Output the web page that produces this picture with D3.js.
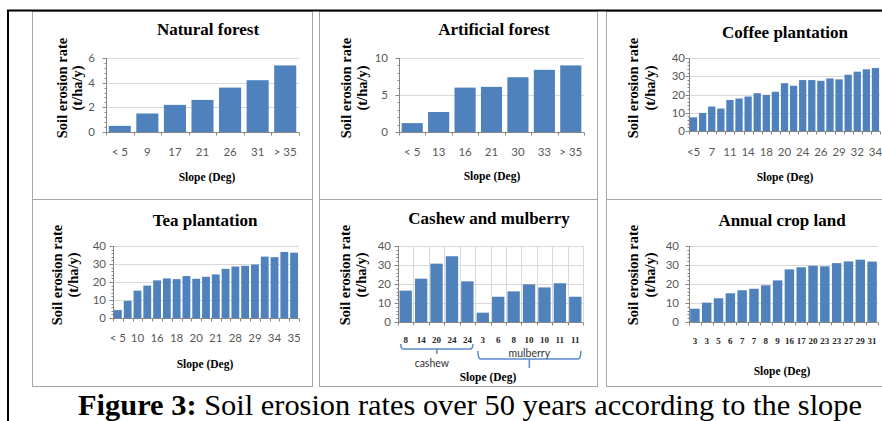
<!DOCTYPE html>
<html>
<head>
<meta charset="utf-8">
<script src="https://cdn.jsdelivr.net/npm/d3@7/dist/d3.min.js"></script>
<style>
  body { margin: 0; background: #fff; }
</style>
</head>
<body>
<svg id="fig" width="882" height="421"></svg>
<script>
// ---- data ----
const naturalSlopes = ["< 5", "9", "17", "21", "26", "31", "> 35"];
const naturalRates = [0.5, 1.5, 2.2, 2.6, 3.6, 4.2, 5.4];

const artificialSlopes = ["< 5", "13", "16", "21", "30", "33", "> 35"];
const artificialRates = [1.2, 2.7, 6.0, 6.1, 7.4, 8.4, 9.0];

// every second label is hidden in the picture, those in between are guesses
const coffeeSlopes = ["<5", "5", "7", "9", "11", "13", "14", "16", "18", "19", "20",
  "22", "24", "25", "26", "28", "29", "31", "32", "33", "34"];
const coffeeRates = [7.5, 9.9, 13.4, 12.3, 17.0, 17.8, 18.9, 20.7, 19.8, 21.5, 26.2,
  24.8, 27.9, 27.9, 27.5, 28.8, 28.3, 30.8, 32.5, 33.8, 34.5];

const teaSlopes = ["< 5", "7", "10", "13", "16", "17", "18", "19", "20", "20", "21",
  "25", "28", "28", "29", "31", "34", "35", "35"];
const teaRates = [4.4, 9.5, 15.2, 18.0, 20.9, 22.0, 21.6, 23.3, 21.8, 22.9, 24.2,
  27.3, 28.6, 29.0, 29.7, 34.1, 33.8, 36.7, 36.3];

const cashewSlopes = ["8", "14", "20", "24", "24"];
const cashewRates = [16.5, 22.8, 30.7, 34.6, 21.4];
const mulberrySlopes = ["3", "6", "8", "10", "10", "11", "11"];
const mulberryRates = [4.9, 13.3, 16.1, 19.8, 18.2, 20.4, 13.3];

const annualSlopes = ["3", "3", "5", "6", "7", "7", "8", "9", "16", "17", "20", "23",
  "23", "27", "29", "31"];
const annualRates = [7.0, 10.2, 12.5, 15.1, 16.7, 17.5, 19.3, 21.9, 27.7, 28.8, 29.6,
  29.3, 31.0, 31.9, 32.8, 31.8];

const yTicksNatural = [0, 2, 4, 6];
const yTicksArtificial = [0, 5, 10];
const yTicks40 = [0, 10, 20, 30, 40];

const panelTitles = ["Natural forest", "Artificial forest", "Coffee plantation",
  "Tea plantation", "Cashew and mulberry", "Annual crop land"];
const yTitle = ["Soil erosion rate", "(t/ha/y)"];
const xTitle = "Slope (Deg)";
const caption = ["Figure 3:", " Soil erosion rates over 50 years according to the slope"];

// ---- style ----
const barColor = "#4f81bd";
const serif = "'Liberation Serif', 'Times New Roman', serif";
const sans = "Lato, 'Open Sans', sans-serif";
const tickGray = "#595959";

const svg = d3.select("#fig");

// panel layout: box = panel frame, plot = [left, top, right, bottom]
const panels = [
  { slopes: naturalSlopes, rates: naturalRates, ticks: yTicksNatural,
    box: [32, 11, 312, 199], plot: [106, 58, 299, 132],
    titleXY: [208, 35], ylabX: [62, 77], ylabY: 88, tickX: 95, tickY: 156, xlabXY: [207, 181], every: 1, serifTicks: false },
  { slopes: artificialSlopes, rates: artificialRates, ticks: yTicksArtificial,
    box: [319, 11, 597, 199], plot: [399, 58, 584, 132],
    titleXY: [494, 35], ylabX: [346, 362], ylabY: 88, tickX: 388, tickY: 156, xlabXY: [492, 180], every: 1, serifTicks: false },
  { slopes: coffeeSlopes, rates: coffeeRates, ticks: yTicks40,
    box: [606, 11, 890, 199], plot: [689, 58, 880, 131],
    titleXY: [785, 38], ylabX: [633, 650], ylabY: 88, tickX: 685, tickY: 156, xlabXY: [785, 181], every: 2, serifTicks: false },
  { slopes: teaSlopes, rates: teaRates, ticks: yTicks40,
    box: [32, 199, 312, 386], plot: [113, 246, 299, 318],
    titleXY: [205, 226], ylabX: [57, 73], ylabY: 275, tickX: 106, tickY: 342, xlabXY: [205, 368], every: 2, serifTicks: false },
  { slopes: cashewSlopes.concat(mulberrySlopes), rates: cashewRates.concat(mulberryRates), ticks: yTicks40,
    box: [319, 199, 597, 386], plot: [398, 246, 583, 322],
    titleXY: [489, 224], ylabX: [345, 361], ylabY: 275, tickX: 391, tickY: 343, xlabXY: [488, 381], every: 1, serifTicks: true, vGrid: true },
  { slopes: annualSlopes, rates: annualRates, ticks: yTicks40,
    box: [606, 199, 890, 386], plot: [689, 246, 878, 322],
    titleXY: [782, 226], ylabX: [633, 650], ylabY: 275, tickX: 679, tickY: 344, xlabXY: [782, 375], every: 1, serifTicks: true }
];

panels.forEach(function(p, k) {
  const g = svg.append("g").attr("class", "panel");
  const [L, T, R, B] = p.plot;

  g.append("rect")
    .attr("x", p.box[0] + 0.5).attr("y", p.box[1] + 0.5)
    .attr("width", p.box[2] - p.box[0]).attr("height", p.box[3] - p.box[1])
    .attr("fill", "none").attr("stroke", "#a6a6a6").attr("stroke-width", 1);

  const x = d3.scaleBand().domain(d3.range(p.rates.length)).range([L, R])
    .paddingInner(0.2).paddingOuter(0.1);
  const y = d3.scaleLinear().domain([0, d3.max(p.ticks)]).range([B, T]);

  // horizontal gridlines
  g.append("g").selectAll("line").data(p.ticks.slice(1)).join("line")
    .attr("x1", L).attr("x2", R)
    .attr("y1", d => Math.round(y(d)) + 0.5).attr("y2", d => Math.round(y(d)) + 0.5)
    .attr("stroke", "#d9d9d9");

  // vertical gridlines (cashew/mulberry chart only)
  if (p.vGrid) {
    g.append("g").selectAll("line").data(d3.range(1, p.rates.length + 1)).join("line")
      .attr("x1", i => Math.round(L + i * x.step()) + 0.5).attr("x2", i => Math.round(L + i * x.step()) + 0.5)
      .attr("y1", T).attr("y2", B)
      .attr("stroke", "#d9d9d9");
  }

  // bars
  g.append("g").selectAll("rect").data(p.rates).join("rect")
    .attr("x", (d, i) => x(i)).attr("width", x.bandwidth())
    .attr("y", d => y(d)).attr("height", d => y(0) - y(d))
    .attr("fill", barColor);

  // y axis with minor ticks
  const step = p.ticks[1] - p.ticks[0];
  const minor = d3.range(0, d3.max(p.ticks) + 1e-9, step / 5);
  const ax = Math.round(L) + 0.5;
  g.append("line").attr("x1", ax).attr("x2", ax).attr("y1", T).attr("y2", B).attr("stroke", "#868686");
  g.append("g").selectAll("line").data(minor).join("line")
    .attr("x1", ax - 2).attr("x2", ax)
    .attr("y1", d => Math.round(y(d)) + 0.5).attr("y2", d => Math.round(y(d)) + 0.5)
    .attr("stroke", "#868686");
  g.append("g").selectAll("line").data(p.ticks).join("line")
    .attr("x1", ax - 4).attr("x2", ax)
    .attr("y1", d => Math.round(y(d)) + 0.5).attr("y2", d => Math.round(y(d)) + 0.5)
    .attr("stroke", "#868686");
  g.append("g").selectAll("text").data(p.ticks).join("text")
    .attr("x", p.tickX).attr("y", d => y(d)).attr("dy", "0.36em")
    .attr("text-anchor", "end")
    .attr("font-family", sans).attr("font-size", 11.5).attr("fill", tickGray)
    .text(d => d);

  // x axis line + ticks at category boundaries
  const by = Math.round(B) + 0.5;
  g.append("line").attr("x1", L).attr("x2", R).attr("y1", by).attr("y2", by).attr("stroke", "#868686");
  g.append("g").selectAll("line").data(d3.range(0, p.rates.length + 1)).join("line")
    .attr("x1", i => Math.round(L + i * x.step()) + 0.5).attr("x2", i => Math.round(L + i * x.step()) + 0.5)
    .attr("y1", by).attr("y2", by + 3)
    .attr("stroke", "#868686");

  // category labels
  const shown = d3.range(p.rates.length).filter(i => i % p.every === 0);
  g.append("g").selectAll("text").data(shown).join("text")
    .attr("x", i => x(i) + x.bandwidth() / 2).attr("y", p.tickY)
    .attr("text-anchor", "middle")
    .attr("font-family", p.serifTicks ? serif : sans)
    .attr("font-weight", p.serifTicks ? "bold" : "normal")
    .attr("font-size", p.serifTicks ? 9 : 11.5)
    .attr("fill", p.serifTicks ? "#262626" : tickGray)
    .text(i => p.slopes[i]);

  // title
  g.append("text").attr("x", p.titleXY[0]).attr("y", p.titleXY[1])
    .attr("text-anchor", "middle").attr("font-family", serif).attr("font-weight", "bold")
    .attr("font-size", 17).text(panelTitles[k]);

  // y title, two rotated lines
  yTitle.forEach(function(t, j) {
    g.append("text")
      .attr("transform", `translate(${p.ylabX[j]},${p.ylabY}) rotate(-90)`)
      .attr("text-anchor", "middle").attr("dy", "0.35em")
      .attr("font-family", serif).attr("font-weight", "bold").attr("font-size", 14.5)
      .text(t);
  });

  // x title
  g.append("text").attr("x", p.xlabXY[0]).attr("y", p.xlabXY[1])
    .attr("text-anchor", "middle").attr("font-family", serif).attr("font-weight", "bold")
    .attr("font-size", 11.5).text(xTitle);

  // braces under the cashew / mulberry groups
  if (p.vGrid) {
    const braceColor = "#5b8ccc";
    const nC = cashewSlopes.length;
    const groups = [
      { name: "cashew", from: 0, to: nC - 1, top: 344, base: 349, tip: 354, textY: 367, below: true },
      { name: "mulberry", from: nC, to: p.rates.length - 1, top: 351, base: 359, tip: 368, textY: 357, below: false }
    ];
    groups.forEach(function(b) {
      const x0 = x(b.from) + x.bandwidth() * 0.1;
      const x1 = x(b.to) + x.bandwidth() * 0.95;
      const mid = (x0 + x1) / 2;
      const path = d3.path();
      path.moveTo(x0, b.top);
      path.quadraticCurveTo(x0, b.base, x0 + 3, b.base);
      path.lineTo(x1 - 3, b.base);
      path.quadraticCurveTo(x1, b.base, x1, b.top);
      path.moveTo(mid, b.base);
      path.lineTo(mid, b.tip);
      g.append("path").attr("d", path.toString())
        .attr("fill", "none").attr("stroke", braceColor).attr("stroke-width", 1.5);
      g.append("text")
        .attr("x", b.below ? mid - 5 : mid).attr("y", b.textY)
        .attr("text-anchor", "middle").attr("font-family", sans)
        .attr("font-size", 10.5).attr("fill", "#333")
        .text(b.name);
    });
  }
});

// outer frame of the figure
svg.append("line").attr("x1", 7).attr("x2", 882).attr("y1", 10.5).attr("y2", 10.5)
  .attr("stroke", "#000").attr("stroke-width", 2);
svg.append("line").attr("x1", 8).attr("x2", 8).attr("y1", 10).attr("y2", 421)
  .attr("stroke", "#000").attr("stroke-width", 2);

// caption
const cap = svg.append("text").attr("x", 78).attr("y", 415)
  .attr("font-family", serif).attr("font-size", 30)
  .attr("textLength", 784).attr("lengthAdjust", "spacingAndGlyphs");
cap.append("tspan").attr("font-weight", "bold").text(caption[0]);
cap.append("tspan").text(caption[1]);
</script>
</body>
</html>
